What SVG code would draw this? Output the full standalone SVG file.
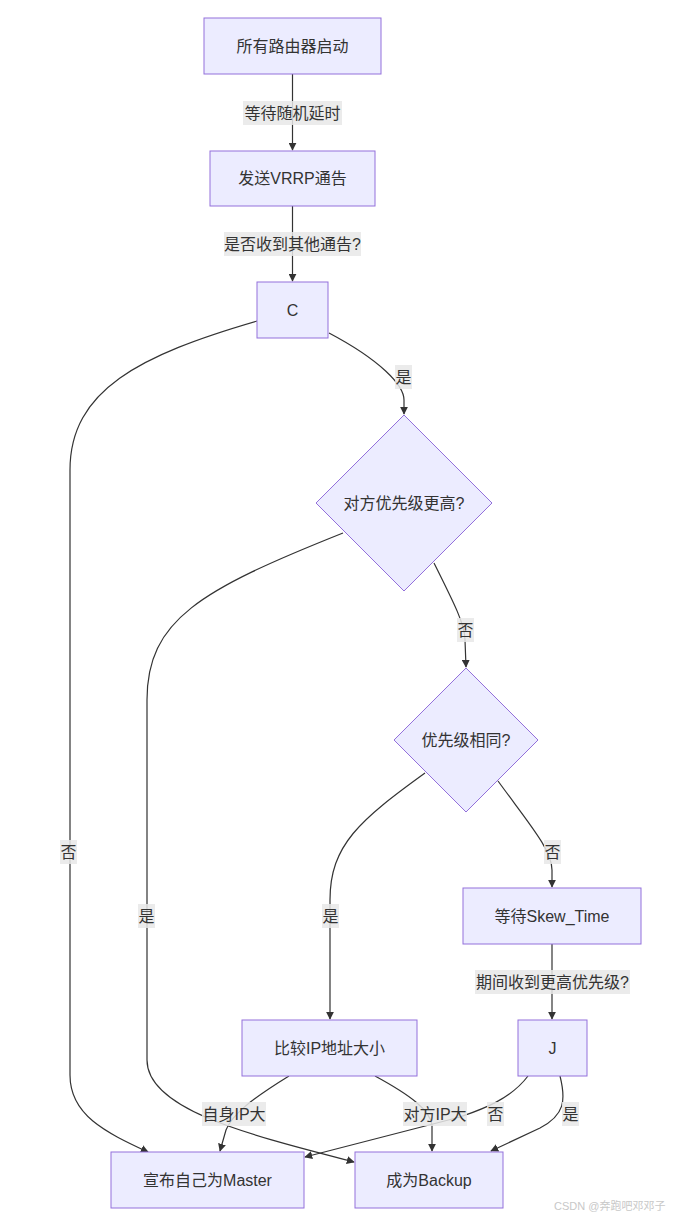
<svg xmlns="http://www.w3.org/2000/svg" width="674" height="1221" viewBox="0 0 674 1221">
<style>
.node rect,.node polygon{fill:#ECECFF;stroke:#9370DB;stroke-width:1}
text{font-family:"Liberation Sans","Noto Sans CJK SC",sans-serif;font-size:16px;fill:#333;text-anchor:middle;dominant-baseline:central}
.edge{fill:none;stroke:#333;stroke-width:1.2}
.lbl rect{fill:#e8e8e8;opacity:0.85}
.wm{font-size:11px;fill:#c8c8c8;text-anchor:start}
</style>
<defs>
<marker id="arr" viewBox="0 0 10 10" refX="9" refY="5" markerWidth="8" markerHeight="8" markerUnits="userSpaceOnUse" orient="auto">
<path d="M0,0 L10,5 L0,10 z" fill="#333"/>
</marker>
</defs>
<rect width="674" height="1221" fill="#fff"/>
<g id="connectors">
<path class="edge" marker-end="url(#arr)" d="M292.5,74 L292.5,150"/>
<path class="edge" marker-end="url(#arr)" d="M292.5,206 L292.5,281"/>
<path class="edge" marker-end="url(#arr)" d="M257,321 C140,355 70,390 70,470 L70,1075 C70,1115 105,1132 148,1152"/>
<path class="edge" marker-end="url(#arr)" d="M329,333 C380,360 404,385 404,400 L404,414"/>
<path class="edge" marker-end="url(#arr)" d="M343,533 C200,590 147,620 147,700 L147,1060 C147,1110 250,1135 354,1162"/>
<path class="edge" marker-end="url(#arr)" d="M434,563 C455,605 465,625 465,640 L466,667"/>
<path class="edge" marker-end="url(#arr)" d="M425,773 C360,820 330,845 330,900 L330,1019"/>
<path class="edge" marker-end="url(#arr)" d="M498,781 C530,825 552,850 552,870 L552,887"/>
<path class="edge" marker-end="url(#arr)" d="M552,944 L552,1019"/>
<path class="edge" marker-end="url(#arr)" d="M289,1076 C250,1100 232,1115 226,1130 L220,1151"/>
<path class="edge" marker-end="url(#arr)" d="M375,1076 C410,1095 430,1110 432,1125 L432,1151"/>
<path class="edge" marker-end="url(#arr)" d="M528,1076 C510,1100 480,1110 460,1117 L305,1157"/>
<path class="edge" marker-end="url(#arr)" d="M560,1076 C566,1100 565,1115 540,1128 L491,1151"/>
<g class="lbl">
<rect x="243" y="101" width="99" height="24"/><text x="292.5" y="113">等待随机延时</text>
<rect x="224" y="232" width="137" height="24"/><text x="292.5" y="244">是否收到其他通告?</text>
<rect x="60" y="840" width="17" height="24"/><text x="68.5" y="852">否</text>
<rect x="395" y="365" width="17" height="24"/><text x="403.5" y="377">是</text>
<rect x="138" y="904" width="17" height="24"/><text x="146.5" y="916">是</text>
<rect x="457" y="618" width="17" height="24"/><text x="465.5" y="630">否</text>
<rect x="322" y="904" width="17" height="24"/><text x="330.5" y="916">是</text>
<rect x="544" y="840" width="17" height="24"/><text x="552.5" y="852">否</text>
<rect x="475" y="970" width="155" height="24"/><text x="552.5" y="982">期间收到更高优先级?</text>
<rect x="202" y="1102" width="64" height="24"/><text x="234" y="1114">自身IP大</text>
<rect x="403" y="1102" width="64" height="24"/><text x="435" y="1114">对方IP大</text>
<rect x="487" y="1102" width="17" height="24"/><text x="495.5" y="1114">否</text>
<rect x="562" y="1102" width="17" height="24"/><text x="570.5" y="1114">是</text>
</g>
</g>
<g id="A" class="node"><rect x="204" y="18" width="177" height="56"/><text x="292.5" y="46">所有路由器启动</text></g>
<g id="B" class="node"><rect x="210" y="151" width="165" height="55"/><text x="292.5" y="178.5">发送VRRP通告</text></g>
<g id="C" class="node"><rect x="257" y="282" width="71" height="56"/><text x="292.5" y="310">C</text></g>
<g id="D" class="node"><polygon points="404,415 492,503 404,591 316,503"/><text x="404" y="503">对方优先级更高?</text></g>
<g id="E" class="node"><polygon points="466,668 538,740 466,812 394,740"/><text x="466" y="740">优先级相同?</text></g>
<g id="F" class="node"><rect x="463" y="888" width="178" height="56"/><text x="552" y="916">等待Skew_Time</text></g>
<g id="G" class="node"><rect x="242" y="1020" width="175" height="56"/><text x="329.5" y="1048">比较IP地址大小</text></g>
<g id="J" class="node"><rect x="518" y="1020" width="69" height="56"/><text x="552.5" y="1048">J</text></g>
<g id="M" class="node"><rect x="111" y="1152" width="193" height="56"/><text x="207.5" y="1180">宣布自己为Master</text></g>
<g id="N" class="node"><rect x="355" y="1152" width="148" height="56"/><text x="429" y="1180">成为Backup</text></g>
<text class="wm" x="554" y="1206">CSDN @奔跑吧邓邓子</text>
</svg>
